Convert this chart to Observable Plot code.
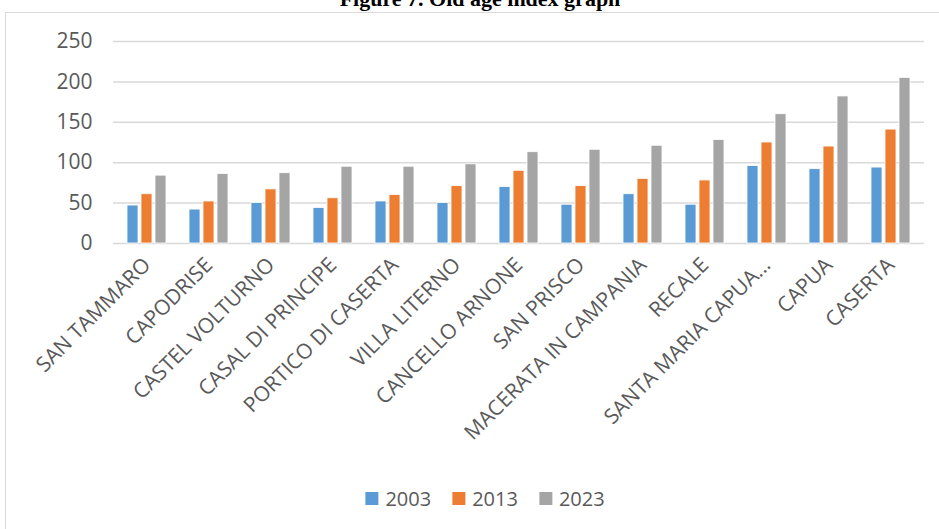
<!DOCTYPE html>
<html>
<head>
<meta charset="utf-8">
<script src="https://cdn.jsdelivr.net/npm/d3@7"></script>
<script src="https://cdn.jsdelivr.net/npm/@observablehq/plot@0.6"></script>
<style>
  html, body { margin: 0; padding: 0; background: #fff; }
  body { width: 939px; height: 529px; overflow: hidden; position: relative; }
  #frame { position: absolute; left: 5px; top: 12px; width: 960px; height: 540px; border: 1.5px solid #d9d9d9; box-sizing: border-box; }
  #title { position: absolute; left: 0; width: 960px; top: -16px; text-align: center; font: bold 22px "Liberation Serif", "Times New Roman", serif; color: #000; line-height: 30px; }
  .layer { position: absolute; left: 0; top: 0; }
  #legend { position: absolute; top: 485px; left: 485px; transform: translateX(-50%); display: flex; gap: 21px; font: 20px "Open Sans", sans-serif; color: #595959; white-space: nowrap; }
  #legend .item { display: flex; align-items: center; gap: 7px; }
  #legend .sw { width: 13px; height: 13px; display: inline-block; }
</style>
</head>
<body>
<div id="frame"></div>
<div id="title">Figure 7. Old age index graph</div>
<div id="grid" class="layer"></div>
<div id="chart" class="layer"></div>
<div id="legend"></div>
<script>
const categories = ["SAN TAMMARO","CAPODRISE","CASTEL VOLTURNO","CASAL DI PRINCIPE","PORTICO DI CASERTA","VILLA LITERNO","CANCELLO ARNONE","SAN PRISCO","MACERATA IN CAMPANIA","RECALE","SANTA MARIA CAPUA...","CAPUA","CASERTA"];
const years = ["2003","2013","2023"];
const v2003 = [47,42,50,44,52,50,70,48,61,48,96,92,94];
const v2013 = [61,52,67,56,60,71,90,71,80,78,125,120,141];
const v2023 = [84,86,87,95,95,98,113,116,121,128,160,182,205];
const yTicks = [0,50,100,150,200,250];
const colors = ["#5B9BD5","#ED7D31","#A5A5A5"];

const series = [v2003, v2013, v2023];
const table = [];
categories.forEach((c, i) => years.forEach((y, j) => table.push({cat: c, year: y, value: series[j][i]})));

const common = {
  width: 939,
  height: 470,
  marginLeft: 113,
  marginRight: 15,
  marginTop: 41,
  marginBottom: 227,
  style: {fontFamily: "'Open Sans', sans-serif", background: "transparent", overflow: "visible"},
  y: {domain: [0, 250], label: null}
};

const grid = Plot.plot({
  ...common,
  marks: [
    Plot.ruleY(yTicks, {stroke: "#d9d9d9", strokeWidth: 1.5}),
    Plot.axisY({ticks: yTicks, tickSize: 0, tickPadding: 21, fontSize: 21, fill: "#595959", label: null})
  ]
});
document.getElementById("grid").appendChild(grid);

const chart = Plot.plot({
  ...common,
  y: {domain: [0, 250], label: null, axis: null},
  fx: {domain: categories, paddingInner: 0.376, paddingOuter: 0.19, label: null},
  x: {domain: years, paddingInner: 0.23, paddingOuter: 0, axis: null},
  color: {domain: years, range: colors},
  marks: [
    Plot.barY(table, {fx: "cat", x: "year", y: "value", fill: "year", stroke: "#ffffff", strokeWidth: 0.8}),
    Plot.axisFx({anchor: "bottom", tickRotate: -45, tickSize: 0, tickPadding: 18, fontSize: 21, fill: "#595959", label: null})
  ]
});
document.getElementById("chart").appendChild(chart);

const legend = document.getElementById("legend");
years.forEach((y, j) => {
  const it = document.createElement("div");
  it.className = "item";
  const sw = document.createElement("span");
  sw.className = "sw";
  sw.style.background = colors[j];
  const t = document.createElement("span");
  t.textContent = y;
  it.appendChild(sw); it.appendChild(t);
  legend.appendChild(it);
});
</script>
</body>
</html>
